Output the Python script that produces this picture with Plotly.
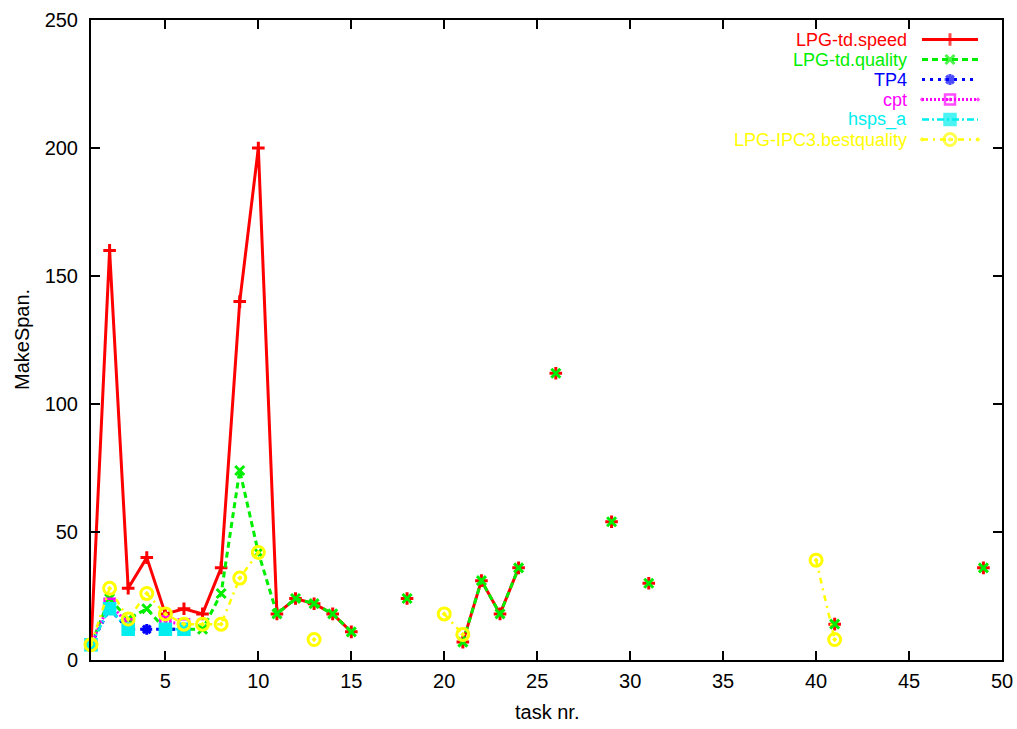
import plotly.graph_objects as go

N = None
tasks = list(range(1, 51))

# values per task 1..50 (None = no result)
speed = [6, 160, 28, 40, 18, 20, 18, 36, 140, 200,
         18, 24, 22, 18, 11, N, N, 24, N, N,
         7, 31, 18, 36, N, 112, N, N, 54, N,
         30, N, N, N, N, N, N, N, N, N,
         14, N, N, N, N, N, N, N, 36, N]
quality = [6, 24, 16, 20, 12, 12, 12, 26, 74, 42,
           18, 24, 22, 18, 11, N, N, 24, N, N,
           7, 31, 18, 36, N, 112, N, N, 54, N,
           30, N, N, N, N, N, N, N, N, N,
           14, N, N, N, N, N, N, N, 36, N]
tp4 = [6, 20, 12, 12, 12, 12] + [N] * 44
cpt = [6, 22, 14, N, 15, 14] + [N] * 44
hsps = [6, 20, 12, N, 12, 12] + [N] * 44
ipc3 = [6, 28, 16, 26, 18, 14, 14, 14, 32, 42,
        N, N, 8, N, N, N, N, N, N, 18,
        10, N, N, N, N, N, N, N, N, N,
        N, N, N, N, N, N, N, N, N, 39,
        8, N, N, N, N, N, N, N, N, N]

names = ["LPG-td.speed", "LPG-td.quality", "TP4", "cpt", "hsps_a",
         "LPG-IPC3.bestquality"]
series = [speed, quality, tp4, cpt, hsps, ipc3]
colors = ["#ff0000", "#00ee00", "#0000ff", "#ff00ff", "#00eeee", "#ffff00"]
dashes = ["solid", "6px,4px", "3px,5px", "2px,2px", "7px,3px,2px,3px",
          "6px,5px,2px,5px"]
symbols = ["cross-thin", "x-thin", "asterisk", "square-open-dot", "square",
           "circle-open-dot"]
msizes = [9, 9, 9, 10, 11, 12]
mlw = [3, 3, 3, 2.5, 2.5, 3]
lwidths = [3, 3, 3, 3, 2.5, 2.5]

FONT = "Liberation Sans, Arial, Helvetica, sans-serif"

fig = go.Figure()
for name, vals, c, d, s, ms, mw, lw in zip(names, series, colors, dashes,
                                           symbols, msizes, mlw, lwidths):
    fig.add_trace(go.Scatter(
        x=tasks, y=vals, name=name, mode="lines+markers",
        line=dict(color=c, width=lw, dash=d),
        marker=dict(symbol=s, size=ms, color=c,
                    line=dict(color=c, width=mw)),
        connectgaps=False, showlegend=False, cliponaxis=False))

# custom gnuplot-style legend (text right, sample to the right)
leg_y0, leg_dy = 39.5, 20
leg_x_text, leg_x0, leg_xm, leg_x1 = 908, 922, 950, 978
for i, (name, c, d, s, ms, mw, lw) in enumerate(zip(names, colors, dashes,
                                                    symbols, msizes, mlw,
                                                    lwidths)):
    yy = leg_y0 + i * leg_dy
    fig.add_trace(go.Scatter(
        x=[leg_x0, leg_xm, leg_x1], y=[yy, yy, yy], mode="lines+markers",
        xaxis="x2", yaxis="y2", showlegend=False, hoverinfo="skip",
        line=dict(color=c, width=lw, dash=d),
        marker=dict(symbol=s, size=[0, ms, 0], color=c,
                    line=dict(color=c, width=mw)),
        cliponaxis=False))
    fig.add_annotation(x=leg_x_text, y=yy, xref="x2", yref="y2", text=name,
                       showarrow=False, xanchor="right", yanchor="middle",
                       borderpad=0,
                       font=dict(family=FONT, size=18, color=c))

axis_common = dict(showline=True, linecolor="black", linewidth=2,
                   mirror="allticks", ticks="inside", ticklen=9, tickwidth=1.5,
                   tickcolor="black", showgrid=False, zeroline=False,
                   automargin=False,
                   tickfont=dict(family=FONT, size=20, color="black"))

fig.update_layout(
    width=1017, height=729,
    margin=dict(l=91, r=15, t=20, b=69, pad=0),
    paper_bgcolor="white", plot_bgcolor="white",
    font=dict(family=FONT, size=20, color="black"),
    xaxis=dict(range=[1, 50], tick0=0, dtick=5, ticklabelstandoff=2,
               **axis_common),
    yaxis=dict(range=[0, 250], tick0=0, dtick=50, ticklabelstandoff=7,
               **axis_common),
    xaxis2=dict(overlaying="x", range=[91, 1002], visible=False,
                automargin=False),
    yaxis2=dict(overlaying="y", range=[660, 20], visible=False,
                automargin=False),
    showlegend=False,
)
fig.add_annotation(x=0.5, y=(660 - 712) / 640, xref="paper", yref="paper",
                   text="task nr.", showarrow=False, xanchor="center",
                   yanchor="middle", font=dict(family=FONT, size=20))
fig.add_annotation(x=(22 - 91) / 911, y=0.5, xref="paper", yref="paper",
                   text="MakeSpan.", showarrow=False, textangle=-90,
                   xanchor="center", yanchor="middle",
                   font=dict(family=FONT, size=20))

fig.write_html("out.html")
